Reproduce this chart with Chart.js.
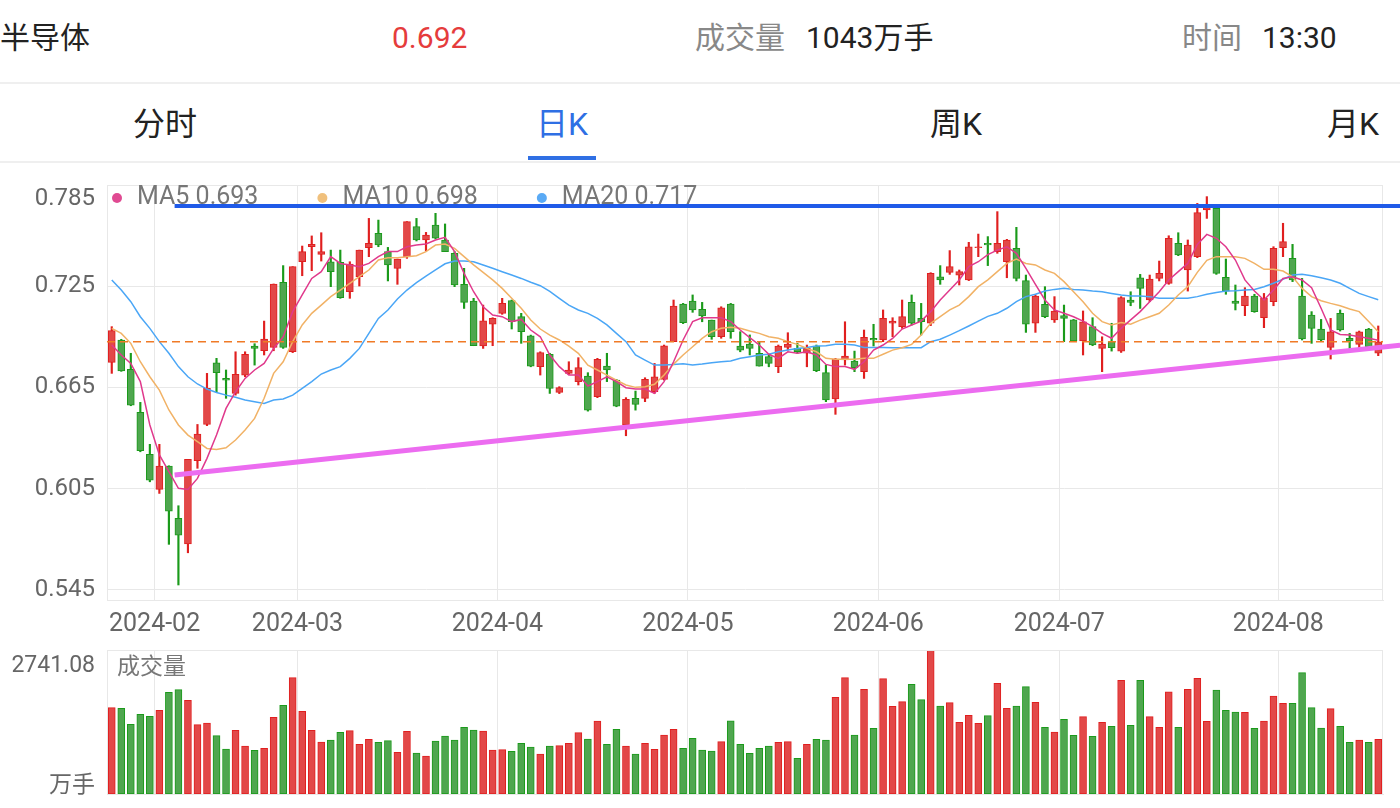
<!DOCTYPE html>
<html lang="zh-CN">
<head>
<meta charset="utf-8">
<title>半导体 日K</title>
<script src="https://cdn.jsdelivr.net/npm/chart.js@4.4.1/dist/chart.umd.min.js"></script>
<style>
    html, body { margin: 0; padding: 0; background: #fff; }
    body { position: relative; width: 1400px; height: 808px; overflow: hidden;
           font-family: Roboto, "Noto Sans CJK SC", sans-serif; }
    .t { position: absolute; white-space: nowrap; line-height: 36px; }
    .head { top: 20px; font-size: 30px; color: #222; }
    .gray { color: #888; }
    .red { color: #e53c3c; }
    .tab { top: 106px; font-size: 32px; color: #222; }
    .tab.on { color: #2f6fe4; }
    .sep { position: absolute; left: 0; width: 1400px; height: 2px; background: #efefef; }
    #underline { position: absolute; left: 528px; top: 156px; width: 68px; height: 4px; background: #2f6fe4; }
    canvas { position: absolute; left: 0; }
</style>
</head>
<body>
<div class="t head" style="left:0">半导体</div>
<div class="t head red" style="left:392px">0.692</div>
<div class="t head gray" style="left:695px">成交量</div>
<div class="t head" style="left:806px">1043万手</div>
<div class="t head gray" style="left:1182px">时间</div>
<div class="t head" style="left:1262px">13:30</div>
<div class="sep" style="top:82px"></div>

<div class="t tab" style="left:133px">分时</div>
<div class="t tab on" style="left:536px">日K</div>
<div class="t tab" style="left:930px">周K</div>
<div class="t tab" style="left:1327px">月K</div>
<div id="underline"></div>
<div class="sep" style="top:161px"></div>

<canvas id="kline" width="1400" height="470" style="top:170px"></canvas>
<canvas id="vol" width="1400" height="168" style="top:640px"></canvas>

<script>
// month ticks: label + index of first trading day of that month
const monthLabels = ['2024-02', '2024-03', '2024-04', '2024-05', '2024-06', '2024-07', '2024-08'];
const monthStart = [5, 20, 41, 61, 81, 100, 123];
const yTicks = [0.545, 0.605, 0.665, 0.725, 0.785];

const open = [0.6798,0.6931,0.6757,0.6502,0.6253,0.6045,0.6183,0.5873,0.5721,0.6215,
    0.6430,0.6796,0.6703,0.6614,0.6723,0.6895,0.6867,0.6887,0.7273,0.6861,
    0.7395,0.7484,0.7439,0.7395,0.7391,0.7217,0.7306,0.7478,0.7563,0.7455,
    0.7356,0.7425,0.7603,0.7524,0.7613,0.7524,0.7445,0.7261,0.7162,0.6895,
    0.7024,0.7089,0.7164,0.7069,0.6956,0.6772,0.6846,0.6620,0.6733,0.6684,
    0.6717,0.6595,0.6776,0.6693,0.6427,0.6585,0.6585,0.6624,0.6697,0.6921,
    0.7144,0.7162,0.7113,0.7049,0.6950,0.7144,0.6895,0.6907,0.6852,0.6832,
    0.6772,0.6887,0.6881,0.6852,0.6895,0.6737,0.6581,0.6812,0.6806,0.6743,
    0.6940,0.6931,0.7030,0.7010,0.7154,0.7059,0.7030,0.7306,0.7332,0.7316,
    0.7287,0.7478,0.7504,0.7455,0.7395,0.7474,0.7283,0.7030,0.7142,0.7050,
    0.7075,0.7050,0.6925,0.7010,0.6881,0.6921,0.6865,0.7168,0.7300,0.7168,
    0.7296,0.7267,0.7504,0.7346,0.7425,0.7702,0.7712,0.7302,0.7162,0.7134,
    0.7192,0.7063,0.7158,0.7478,0.7415,0.7192,0.7079,0.6996,0.6887,0.7089,
    0.6940,0.6905,0.6996,0.6852];
const high = [0.7010,0.6935,0.6852,0.6561,0.6312,0.6312,0.6185,0.5948,0.6223,0.6430,
    0.6733,0.6822,0.6753,0.6861,0.6861,0.6909,0.7043,0.7263,0.7372,0.7366,
    0.7488,0.7548,0.7567,0.7464,0.7464,0.7395,0.7464,0.7652,0.7642,0.7480,
    0.7411,0.7633,0.7652,0.7569,0.7682,0.7619,0.7455,0.7356,0.7178,0.7138,
    0.7063,0.7178,0.7168,0.7089,0.6960,0.6861,0.6852,0.6654,0.6802,0.6826,
    0.6737,0.6822,0.6852,0.6697,0.6589,0.6628,0.6707,0.6792,0.6901,0.7168,
    0.7148,0.7198,0.7154,0.7049,0.7128,0.7148,0.6980,0.6961,0.6921,0.6842,
    0.6901,0.6974,0.6911,0.6901,0.6901,0.6782,0.6822,0.7039,0.6865,0.6990,
    0.7024,0.7109,0.7063,0.7168,0.7198,0.7148,0.7330,0.7372,0.7461,0.7346,
    0.7510,0.7559,0.7544,0.7692,0.7528,0.7599,0.7316,0.7198,0.7247,0.7188,
    0.7138,0.7053,0.7103,0.7063,0.6950,0.7030,0.7188,0.7217,0.7320,0.7316,
    0.7399,0.7549,0.7567,0.7524,0.7741,0.7781,0.7725,0.7411,0.7257,0.7241,
    0.7202,0.7207,0.7484,0.7623,0.7498,0.7296,0.7099,0.7053,0.7059,0.7109,
    0.6970,0.6984,0.7000,0.7014];
const low = [0.6733,0.6745,0.6541,0.6268,0.6090,0.6021,0.5719,0.5478,0.5669,0.6170,
    0.6423,0.6624,0.6585,0.6604,0.6713,0.6782,0.6842,0.6867,0.6881,0.6856,
    0.7312,0.7342,0.7399,0.7247,0.7178,0.7178,0.7251,0.7425,0.7484,0.7281,
    0.7261,0.7415,0.7518,0.7459,0.7530,0.7455,0.7247,0.7118,0.6897,0.6881,
    0.6897,0.7083,0.6996,0.6911,0.6772,0.6723,0.6614,0.6613,0.6727,0.6664,
    0.6509,0.6589,0.6684,0.6535,0.6363,0.6515,0.6565,0.6614,0.6693,0.6921,
    0.7028,0.7095,0.7039,0.6935,0.6941,0.6941,0.6861,0.6842,0.6776,0.6772,
    0.6737,0.6871,0.6852,0.6772,0.6743,0.6565,0.6490,0.6782,0.6743,0.6703,
    0.6895,0.6921,0.6950,0.7000,0.7020,0.6960,0.7016,0.7261,0.7320,0.7257,
    0.7283,0.7425,0.7372,0.7445,0.7300,0.7281,0.6976,0.6976,0.7063,0.7035,
    0.6921,0.6921,0.6842,0.6897,0.6743,0.6865,0.6857,0.7134,0.7118,0.7158,
    0.7281,0.7261,0.7431,0.7221,0.7419,0.7652,0.7320,0.7202,0.7109,0.7075,
    0.7095,0.7004,0.7134,0.7425,0.7277,0.6931,0.6911,0.6925,0.6818,0.6984,
    0.6881,0.6881,0.6887,0.6838];
const close = [0.6986,0.6747,0.6545,0.6274,0.6100,0.6183,0.5916,0.5774,0.6223,0.6373,
    0.6644,0.6737,0.6693,0.6727,0.6846,0.6881,0.6937,0.7263,0.6887,0.7366,
    0.7455,0.7498,0.7455,0.7336,0.7182,0.7381,0.7464,0.7504,0.7494,0.7376,
    0.7411,0.7633,0.7524,0.7553,0.7534,0.7455,0.7257,0.7154,0.6897,0.7045,
    0.7059,0.7148,0.7039,0.6980,0.6776,0.6856,0.6644,0.6648,0.6753,0.6767,
    0.6515,0.6816,0.6753,0.6539,0.6579,0.6549,0.6697,0.6713,0.6897,0.7132,
    0.7033,0.7109,0.7073,0.6950,0.7122,0.6980,0.6871,0.6881,0.6776,0.6792,
    0.6895,0.6907,0.6861,0.6881,0.6749,0.6575,0.6818,0.6836,0.6767,0.6946,
    0.6931,0.7059,0.7043,0.7069,0.7030,0.7039,0.7326,0.7287,0.7366,0.7336,
    0.7484,0.7484,0.7494,0.7504,0.7524,0.7296,0.7024,0.7192,0.7069,0.7103,
    0.7059,0.6925,0.7039,0.6901,0.6907,0.6885,0.7182,0.7154,0.7237,0.7292,
    0.7326,0.7534,0.7435,0.7494,0.7686,0.7716,0.7326,0.7221,0.7148,0.7192,
    0.7099,0.7178,0.7474,0.7514,0.7287,0.6937,0.7000,0.6931,0.6980,0.6990,
    0.6925,0.6980,0.6891,0.6920];
// 成交量, 万手
const volume = [1643,1630,1326,1516,1478,1592,1935,1986,1783,1320,
    1351,1110,856,1212,913,831,869,1459,1687,2214,
    1573,1212,990,1028,1173,1205,945,1040,983,1015,
    793,1192,780,723,1009,1104,1028,1269,1218,1199,
    837,844,812,964,894,761,913,920,964,1167,
    1047,1389,945,1231,913,761,964,850,1123,1231,
    869,1059,837,818,996,1395,945,774,869,913,
    983,996,679,945,1040,1028,1840,2214,1123,1992,
    1250,2195,1668,1757,2087,1795,2741.08,1675,1738,1364,
    1497,1345,1491,2106,1630,1675,2043,1744,1269,1180,
    1421,1117,1472,1097,1364,1288,2163,1307,2163,1472,
    1269,1947,1269,1992,2201,1383,1979,1592,1560,1554,
    1250,1389,1865,1725,1725,2309,1643,1256,1624,1288,
    983,1028,983,1043];
const ma5 = [0.6901,0.6842,0.6792,0.6684,0.6427,0.6249,0.6150,0.6051,0.6045,0.6110,
    0.6229,0.6367,0.6525,0.6624,0.6703,0.6753,0.6792,0.6881,0.6950,0.7099,
    0.7198,0.7296,0.7336,0.7425,0.7385,0.7376,0.7366,0.7385,0.7425,0.7455,
    0.7455,0.7484,0.7494,0.7500,0.7524,0.7540,0.7455,0.7326,0.7217,0.7128,
    0.7079,0.7069,0.7040,0.7053,0.6990,0.6950,0.6842,0.6773,0.6723,0.6723,
    0.6658,0.6684,0.6713,0.6684,0.6648,0.6640,0.6640,0.6614,0.6684,0.6802,
    0.6931,0.7040,0.7063,0.7063,0.7063,0.7040,0.6990,0.6945,0.6901,0.6846,
    0.6822,0.6861,0.6852,0.6861,0.6842,0.6786,0.6773,0.6773,0.6757,0.6802,
    0.6871,0.6901,0.6940,0.6996,0.7020,0.7043,0.7099,0.7168,0.7227,0.7287,
    0.7366,0.7395,0.7437,0.7464,0.7484,0.7445,0.7356,0.7261,0.7168,0.7109,
    0.7089,0.7069,0.7043,0.7010,0.6970,0.6941,0.7000,0.7050,0.7099,0.7158,
    0.7217,0.7287,0.7336,0.7385,0.7498,0.7557,0.7534,0.7484,0.7405,0.7287,
    0.7221,0.7168,0.7227,0.7296,0.7306,0.7287,0.7241,0.7119,0.6990,0.6964,
    0.6961,0.6950,0.6941,0.6930];
const ma10 = [0.7000,0.6970,0.6911,0.6802,0.6713,0.6634,0.6516,0.6427,0.6367,0.6328,
    0.6288,0.6282,0.6292,0.6338,0.6397,0.6466,0.6585,0.6733,0.6802,0.6921,
    0.7020,0.7089,0.7138,0.7188,0.7227,0.7267,0.7306,0.7346,0.7405,0.7419,
    0.7419,0.7425,0.7431,0.7455,0.7494,0.7500,0.7474,0.7425,0.7376,0.7332,
    0.7287,0.7237,0.7178,0.7119,0.7049,0.6996,0.6960,0.6931,0.6895,0.6852,
    0.6782,0.6753,0.6723,0.6693,0.6664,0.6650,0.6654,0.6668,0.6723,0.6788,
    0.6842,0.6891,0.6940,0.6980,0.7000,0.7006,0.7000,0.6984,0.6970,0.6950,
    0.6941,0.6921,0.6905,0.6881,0.6861,0.6822,0.6816,0.6816,0.6816,0.6822,
    0.6822,0.6846,0.6871,0.6885,0.6905,0.6960,0.7030,0.7069,0.7109,0.7138,
    0.7188,0.7247,0.7287,0.7336,0.7385,0.7411,0.7385,0.7376,0.7346,0.7326,
    0.7277,0.7217,0.7158,0.7089,0.7040,0.7020,0.7035,0.7024,0.7049,0.7069,
    0.7089,0.7138,0.7198,0.7247,0.7332,0.7403,0.7425,0.7425,0.7425,0.7415,
    0.7385,0.7350,0.7350,0.7340,0.7306,0.7237,0.7188,0.7164,0.7148,0.7134,
    0.7115,0.7099,0.7040,0.6980];
const ma20 = [0.7287,0.7227,0.7158,0.7069,0.7000,0.6921,0.6852,0.6773,0.6713,0.6670,
    0.6640,0.6620,0.6604,0.6591,0.6575,0.6565,0.6555,0.6575,0.6581,0.6604,
    0.6644,0.6684,0.6729,0.6753,0.6773,0.6822,0.6881,0.6970,0.7059,0.7109,
    0.7174,0.7227,0.7271,0.7310,0.7346,0.7383,0.7399,0.7399,0.7395,0.7376,
    0.7356,0.7336,0.7316,0.7296,0.7273,0.7253,0.7219,0.7178,0.7138,0.7109,
    0.7089,0.7059,0.7020,0.6970,0.6921,0.6842,0.6812,0.6782,0.6782,0.6786,
    0.6790,0.6782,0.6788,0.6796,0.6802,0.6806,0.6822,0.6832,0.6842,0.6846,
    0.6861,0.6871,0.6881,0.6887,0.6895,0.6897,0.6905,0.6905,0.6901,0.6887,
    0.6887,0.6887,0.6885,0.6885,0.6885,0.6885,0.6921,0.6935,0.6960,0.6986,
    0.7014,0.7043,0.7071,0.7089,0.7119,0.7158,0.7188,0.7202,0.7221,0.7231,
    0.7237,0.7231,0.7227,0.7221,0.7217,0.7207,0.7198,0.7192,0.7192,0.7188,
    0.7178,0.7178,0.7178,0.7178,0.7188,0.7202,0.7213,0.7221,0.7223,0.7227,
    0.7231,0.7247,0.7267,0.7291,0.7316,0.7320,0.7312,0.7300,0.7287,0.7267,
    0.7237,0.7207,0.7188,0.7170];
const maNames = ['MA5', 'MA10', 'MA20'];
const maNow = [0.693, 0.698, 0.717];

const lastPrice = 0.692;
// hand drawn lines: resistance (blue) and rising support (violet)
const lineFrom = 6.6, lineTo = 135.3;
const resistance = 0.7725;
const supportFrom = 0.613, supportTo = 0.690;
const volMax = 2741.08;

document.addEventListener('DOMContentLoaded', function () {
    const RED = '#e24848', RED_EDGE = '#e01f1f';
    const GREEN = '#4fa64f', GREEN_EDGE = '#1a9a1a';
    const GRID = '#e8e8e8';
    const maColors = ['#e0398c', '#f1b266', '#4aa6f6'];
    const dotColors = ['#e04a92', '#f0c07c', '#5aaaf5'];

    const up = close.map((c, i) => c >= open[i]);
    const fill = up.map(u => u ? RED : GREEN);
    const edge = up.map(u => u ? RED_EDGE : GREEN_EDGE);
    const pts = arr => arr.map((v, i) => ({ x: i, y: v }));

    const xScale = {
        type: 'linear', min: -0.5, max: close.length - 0.5, offset: false, bounds: 'data',
        afterBuildTicks: s => { s.ticks = monthStart.map(v => ({ value: v - 0.5 })); }
    };

    // grid border, y labels, MA legend
    const kFrame = {
        id: 'kFrame',
        beforeDatasetsDraw(chart) {
            const c = chart.ctx, a = chart.chartArea;
            c.save();
            c.strokeStyle = GRID;
            c.lineWidth = 1;
            c.strokeRect(a.left + 0.5, a.top + 0.5, a.right - a.left - 1, a.bottom - a.top);
            c.font = '25px Roboto';
            c.textBaseline = 'middle';
            let x = a.left + 10;
            const y = a.top + 13;
            maNames.forEach((name, i) => {
                c.fillStyle = dotColors[i];
                c.beginPath();
                c.arc(x, y, 5, 0, Math.PI * 2);
                c.fill();
                const txt = name + ' ' + maNow[i].toFixed(3);
                c.fillStyle = '#777';
                c.fillText(txt, x + 20, y);
                x += 20 + c.measureText(txt).width + 64;
            });
            c.restore();
        },
        afterDraw(chart) {
            const c = chart.ctx, a = chart.chartArea, ys = chart.scales.y;
            c.save();
            c.font = '24px Roboto';
            c.fillStyle = '#666';
            c.textAlign = 'right';
            c.textBaseline = 'middle';
            yTicks.forEach(v => {
                const py = Math.max(ys.getPixelForValue(v), a.top + 14);
                c.fillText(v.toFixed(3), a.left - 12, py);
            });
            c.restore();
        }
    };

    new Chart(document.getElementById('kline').getContext('2d'), {
        type: 'bar',
        data: {
            datasets: [
                { type: 'line', data: [{ x: lineFrom, y: resistance }, { x: lineTo, y: resistance }],
                  borderColor: '#1f5ae8', borderWidth: 4, pointRadius: 0, clip: false, order: 1 },
                { type: 'line', data: [{ x: lineFrom, y: supportFrom }, { x: lineTo, y: supportTo }],
                  borderColor: '#ec6cf0', borderWidth: 5, pointRadius: 0, clip: false, order: 2 },
                { type: 'line', data: [{ x: -0.5, y: lastPrice }, { x: close.length - 0.5, y: lastPrice }],
                  borderColor: '#f07a26', borderWidth: 1.5, borderDash: [8, 5], pointRadius: 0, order: 5 },
                { type: 'line', data: pts(ma5), borderColor: maColors[0], borderWidth: 1.5, pointRadius: 0, order: 6 },
                { type: 'line', data: pts(ma10), borderColor: maColors[1], borderWidth: 1.5, pointRadius: 0, order: 7 },
                { type: 'line', data: pts(ma20), borderColor: maColors[2], borderWidth: 1.5, pointRadius: 0, order: 8 },
                { data: close.map((c, i) => ({ x: i, y: [open[i], c] })),
                  backgroundColor: fill, borderColor: edge, borderWidth: 1, borderSkipped: false,
                  barThickness: 7, grouped: false, minBarLength: 1, order: 9 },
                { data: close.map((c, i) => ({ x: i, y: [low[i], high[i]] })),
                  backgroundColor: edge, borderWidth: 0,
                  barThickness: 1.5, grouped: false, order: 10 }
            ]
        },
        options: {
            responsive: false,
            animation: false,
            layout: { padding: { left: 107, right: 17, top: 15, bottom: 0 } },
            plugins: { legend: { display: false }, tooltip: { enabled: false } },
            scales: {
                x: Object.assign({}, xScale, {
                    afterFit: s => { s.height = 40; },
                    grid: { color: GRID, drawTicks: false, offset: false },
                    border: { color: GRID },
                    ticks: {
                        autoSkip: false, maxRotation: 0, padding: 10, color: '#666',
                        font: { family: 'Roboto', size: 25 },
                        callback: (v, i) => monthLabels[i]
                    }
                }),
                y: {
                    type: 'linear', min: 0.5389, max: 0.785, bounds: 'data',
                    afterBuildTicks: s => { s.ticks = yTicks.map(v => ({ value: v })); },
                    afterFit: s => { s.width = 0; },
                    grid: { color: GRID, drawTicks: false },
                    border: { color: GRID },
                    ticks: { display: false }
                }
            }
        },
        plugins: [kFrame]
    });

    const volFrame = {
        id: 'volFrame',
        afterDraw(chart) {
            const c = chart.ctx, a = chart.chartArea;
            c.save();
            c.strokeStyle = GRID;
            c.strokeRect(a.left + 0.5, a.top + 0.5, a.right - a.left - 1, a.bottom - a.top);
            c.font = '23px Roboto, "Noto Sans CJK SC"';
            c.fillStyle = '#666';
            c.textBaseline = 'middle';
            c.textAlign = 'right';
            c.fillText(volMax.toFixed(2), a.left - 12, a.top + 16);
            c.fillText('万手', a.left - 12, a.bottom - 8);
            c.textAlign = 'left';
            c.fillStyle = '#777';
            c.fillText('成交量', a.left + 10, a.top + 18);
            c.restore();
        }
    };

    new Chart(document.getElementById('vol').getContext('2d'), {
        type: 'bar',
        data: {
            datasets: [{
                data: pts(volume),
                backgroundColor: fill, borderColor: edge, borderWidth: 1, borderSkipped: false,
                barThickness: 7, grouped: false
            }]
        },
        options: {
            responsive: false,
            animation: false,
            layout: { padding: { left: 107, right: 17, top: 10, bottom: 14 } },
            plugins: { legend: { display: false }, tooltip: { enabled: false } },
            scales: {
                x: Object.assign({}, xScale, {
                    afterFit: s => { s.height = 0; },
                    grid: { color: GRID, drawTicks: false, offset: false },
                    border: { color: GRID },
                    ticks: { display: false }
                }),
                y: {
                    type: 'linear', min: 0, max: volMax, bounds: 'data',
                    afterFit: s => { s.width = 0; },
                    grid: { display: false },
                    border: { color: GRID },
                    ticks: { display: false }
                }
            }
        },
        plugins: [volFrame]
    });
});
</script>
</body>
</html>
